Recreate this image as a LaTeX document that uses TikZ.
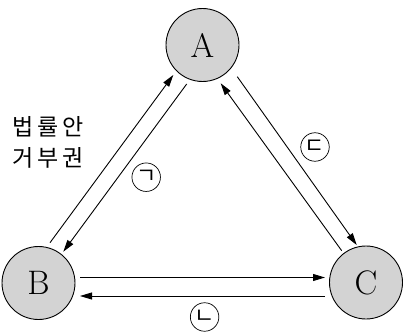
\documentclass[tikz,border=0pt]{standalone}
\usepackage{fontspec}
\newfontfamily\kr{Noto Sans CJK KR}
\usetikzlibrary{arrows.meta,calc}
\definecolor{circfill}{RGB}{211,211,211}
\begin{document}
\begin{tikzpicture}[x=1pt,y=-1pt,
  vertex/.style={circle,draw,line width=0.9pt,fill=circfill,minimum size=73pt,inner sep=0pt,font=\fontsize{34}{38}\selectfont},
  tag/.style={circle,draw,line width=0.7pt,minimum size=28.5pt,inner sep=0pt,font=\kr\fontsize{22}{24}\selectfont},
  arr/.style={line width=0.9pt,-{Triangle[length=12pt,width=7pt]}},
  note/.style={font=\kr\fontsize{23}{31}\selectfont,align=center}]
\useasboundingbox (0,0) rectangle (405,332);
\node[vertex] (A) at (202.5,45) {A};
\node[vertex] (B) at (38.5,283) {B};
\node[vertex] (C) at (366,282.5) {C};
% left pair
\coordinate (bo) at ($(B)+(11.5,-40.3)$);
\coordinate (ao) at ($(A)+(-29.2,30)$);
\draw[arr] (bo) -- (ao);
\coordinate (ai) at ($(A)+(-15.8,39)$);
\coordinate (bi) at ($(B)+(24.8,-31.3)$);
\draw[arr] (ai) -- (bi);
% right pair
\coordinate (ar) at ($(A)+(34.8,31.7)$);
\coordinate (co) at ($(C)+(-9.3,-37.5)$);
\draw[arr] (ar) -- (co);
\coordinate (ci) at ($(C)+(-24.3,-31.8)$);
\coordinate (al) at ($(A)+(18.2,38.3)$);
\draw[arr] (ci) -- (al);
% bottom pair
\coordinate (bh1) at ($(B)+(41.5,-5.5)$);
\coordinate (ch1) at ($(C)+(-41,-5)$);
\draw[arr] (bh1) -- (ch1);
\coordinate (ch2) at ($(C)+(-41,13.5)$);
\coordinate (bh2) at ($(B)+(41.5,13)$);
\draw[arr] (ch2) -- (bh2);
% labels
\node[note] (law) at (48,142.5) {법\kern4pt 률\kern4pt 안\\거\kern4pt 부\kern4pt 권};
\node[tag] (t1) at (146.2,177.2) {ㄱ};
\node[tag] (t2) at (204.6,317) {ㄴ};
\node[tag] (t3) at (315,147) {ㄷ};
\end{tikzpicture}
\end{document}
